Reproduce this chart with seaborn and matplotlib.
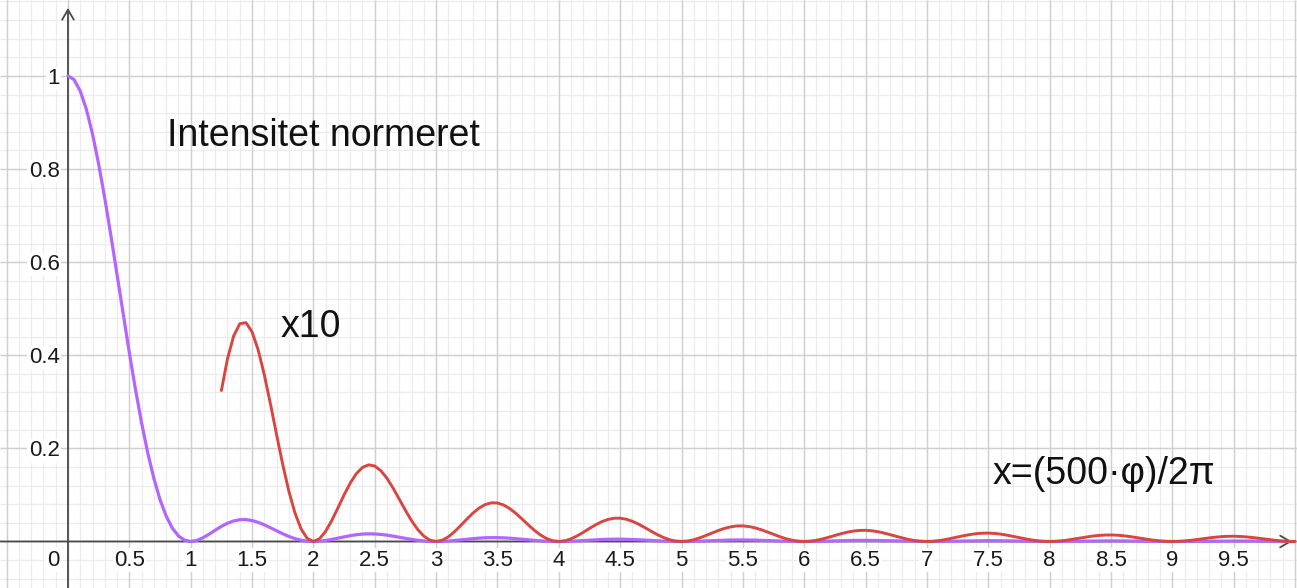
import numpy as np
import pandas as pd
import matplotlib
matplotlib.use("Agg")
import matplotlib.pyplot as plt
import seaborn as sns

# ---- data ----
x_values = [round(0.05 * i, 2) for i in range(0, 201)]   # 0 .. 10 in 0.05 steps

intensity = [
    # 0.00 .. 0.95
    1.0, 0.99181, 0.96754, 0.92813, 0.87514, 0.81057, 0.73684, 0.65664, 0.57279, 0.48811,
    0.40528, 0.32675, 0.25457, 0.19039, 0.13534, 0.090063, 0.05470, 0.028904, 0.011945, 0.0027474,
    # 1.00 .. 1.95
    0.0, 0.0022490, 0.0079962, 0.015791, 0.024309, 0.032423, 0.039240, 0.044136, 0.046758, 0.047012,
    0.045032, 0.041141, 0.035799, 0.029546, 0.022946, 0.016542, 0.010804, 0.0061017, 0.0026801, 0.00065208,
    # 2.00 .. 2.95
    0.0, 0.00059001, 0.0021940, 0.0045177, 0.0072326, 0.010007, 0.012536, 0.014566, 0.015911, 0.016467,
    0.016211, 0.015201, 0.013557, 0.011454, 0.0090968, 0.0066989, 0.0044650, 0.0025710, 0.0011505, 0.00028492,
    # 3.00 .. 3.95
    0.0, 0.00026654, 0.0010068, 0.0021046, 0.0034185, 0.0047963, 0.0060895, 0.0071676, 0.0079276, 0.0083043,
    0.0082711, 0.0078430, 0.0070715, 0.0060378, 0.0048442, 0.0036025, 0.0024242, 0.0014089, 0.00063611, 0.00015892,
    # 4.00 .. 4.95
    0.0, 0.00015117, 0.00057557, 0.0012125, 0.0019844, 0.0028047, 0.0035866, 0.0042509, 0.0047338, 0.0049914,
    0.0050035, 0.0047744, 0.0043311, 0.0037201, 0.0030020, 0.0022453, 0.0015193, 0.00088779, 0.00040297, 0.00010119,
    # 5.00 .. 5.95
    0.0, 0.000097227, 0.00037199, 0.00078737, 0.0012946, 0.0018380, 0.0023608, 0.0028103, 0.0031429, 0.0033277,
    0.0033495, 0.0032089, 0.0029224, 0.0025198, 0.0020411, 0.0015323, 0.0010406, 0.00061021, 0.00027795, 0.000070038,
    # 6.00 .. 6.95
    0.0, 0.000067742, 0.00026002, 0.00055213, 0.00091066, 0.0012969, 0.0016708, 0.0019949, 0.0022374, 0.0023759,
    0.0023981, 0.0023039, 0.0021039, 0.0018189, 0.0014773, 0.0011119, 0.00075704, 0.00044505, 0.00020322, 0.000051333,
    # 7.00 .. 7.95
    0.0, 0.000049887, 0.00019193, 0.00040849, 0.00067526, 0.00096382, 0.0012444, 0.0014890, 0.0016736, 0.0017809,
    0.0018013, 0.0017340, 0.0015867, 0.0013745, 0.0011185, 0.00084346, 0.00057537, 0.00033889, 0.00015503, 0.000039231,
    # 8.00 .. 8.95
    0.0, 0.000038263, 0.00014747, 0.00031440, 0.00052061, 0.00074433, 0.00096263, 0.0011537, 0.0012988, 0.0013843,
    0.0014024, 0.0013521, 0.0012391, 0.0010751, 0.00087615, 0.00066169, 0.00045204, 0.00026663, 0.00012215, 0.000030954,
    # 9.00 .. 9.95
    0.0, 0.000030274, 0.00011684, 0.00024943, 0.00041358, 0.00058525, 0.00076674, 0.00092011, 0.0010372, 0.0011068,
    0.0011227, 0.0010838, 0.00099442, 0.00086379, 0.00070481, 0.00053292, 0.00036449, 0.00021524, 0.000098718, 0.000025045,
    # 10.00
    0.0,
]

zoom_factor = 10          # the red curve is the same intensity shown x10
zoom_start = 1.25         # red curve starts at x = 1.25

x_ticks = [0.5, 1, 1.5, 2, 2.5, 3, 3.5, 4, 4.5, 5, 5.5, 6, 6.5, 7, 7.5, 8, 8.5, 9, 9.5]
y_ticks = [0.2, 0.4, 0.6, 0.8, 1.0]

title_text = "Intensitet normeret"
zoom_text = "x10"
axis_text = "x=(500·φ)/2π"

# ---- build frames ----
df = pd.DataFrame({"x": x_values, "I": intensity})
df_zoom = df[df["x"] >= zoom_start - 1e-9].copy()
df_zoom["I"] = df_zoom["I"] * zoom_factor

sns.set_theme(style="white")
plt.rcParams["font.family"] = ["Liberation Sans", "DejaVu Sans"]

fig = plt.figure(figsize=(12.97, 5.88), dpi=100)
ax = fig.add_axes([0, 0, 1, 1])

XMIN, XMAX = -0.554, 10.016
YMIN, YMAX = -0.0999, 1.163

# grid drawn as plain lines beneath everything (minor 0.1 / 0.04, major 0.5 / 0.2)
minor_x = np.round(np.arange(-0.5, 10.05, 0.1), 2)
minor_y = np.round(np.arange(-0.08, 1.17, 0.04), 2)
ax.vlines(minor_x, YMIN, YMAX, colors="#ececec", linewidth=0.9, zorder=0.1)
ax.hlines(minor_y, XMIN, XMAX, colors="#ececec", linewidth=0.9, zorder=0.1)
major_x = np.round(np.arange(-0.5, 10.05, 0.5), 2)
major_y = np.round(np.arange(0.0, 1.17, 0.2), 2)
ax.vlines(major_x, YMIN, YMAX, colors="#d0d0d0", linewidth=1.0, zorder=0.2)
ax.hlines(major_y, XMIN, XMAX, colors="#d0d0d0", linewidth=1.0, zorder=0.2)

ax.set_xlim(XMIN, XMAX)
ax.set_ylim(YMIN, YMAX)

# ticks / labels along axes at data zero
for s in ["top", "right"]:
    ax.spines[s].set_visible(False)
ax.spines["left"].set_position(("data", 0))
ax.spines["bottom"].set_position(("data", 0))
ax.spines["left"].set_color("none")
ax.spines["bottom"].set_color("none")

ax.set_xticks(x_ticks)
ax.set_xticklabels([f"{t:g}" for t in x_ticks])
ax.set_yticks(y_ticks)
ax.set_yticklabels([f"{t:g}" for t in y_ticks])
ax.minorticks_off()
ax.grid(False)
ax.set_axisbelow(True)
ax.tick_params(which="both", length=0)
ax.tick_params(axis="x", pad=6, labelsize=16, labelcolor="#1a1a1a")
ax.tick_params(axis="y", pad=6, labelsize=16, labelcolor="#1a1a1a")
label_box = dict(facecolor="white", edgecolor="none", pad=1.0)
for lbl in ax.get_xticklabels() + ax.get_yticklabels():
    lbl.set_bbox(label_box)

ax.text(-0.122, -0.040, "0", ha="center", va="center", fontsize=16, color="#1a1a1a",
        bbox=label_box, zorder=5)

# axes with arrows
axis_col = "#4a4a4a"
ax.annotate("", xy=(9.975, 0), xytext=(XMIN, 0),
            arrowprops=dict(arrowstyle="->,head_length=0.6,head_width=0.35", color=axis_col, lw=1.3,
                            shrinkA=0, shrinkB=0), zorder=2)
ax.annotate("", xy=(0, 1.146), xytext=(0, YMIN),
            arrowprops=dict(arrowstyle="->,head_length=0.6,head_width=0.35", color=axis_col, lw=1.3,
                            shrinkA=0, shrinkB=0), zorder=2)

# curves
sns.lineplot(data=df, x="x", y="I", ax=ax, color="#B266FF", linewidth=2.3,
             estimator=None, sort=False, zorder=3, solid_joinstyle="round")
sns.lineplot(data=df_zoom, x="x", y="I", ax=ax, color="#D9453F", linewidth=2.1,
             estimator=None, sort=False, zorder=4, solid_joinstyle="round")
ax.set_xlabel("")
ax.set_ylabel("")

# annotations
ax.text(0.807, 0.850, title_text, fontsize=27, color="#111111", ha="left", va="baseline")
ax.text(1.729, 0.440, zoom_text, fontsize=27, color="#111111", ha="left", va="baseline")
ax.text(7.534, 0.124, axis_text, fontsize=27, color="#111111", ha="left", va="baseline")

fig.savefig("out.png", dpi=100)
